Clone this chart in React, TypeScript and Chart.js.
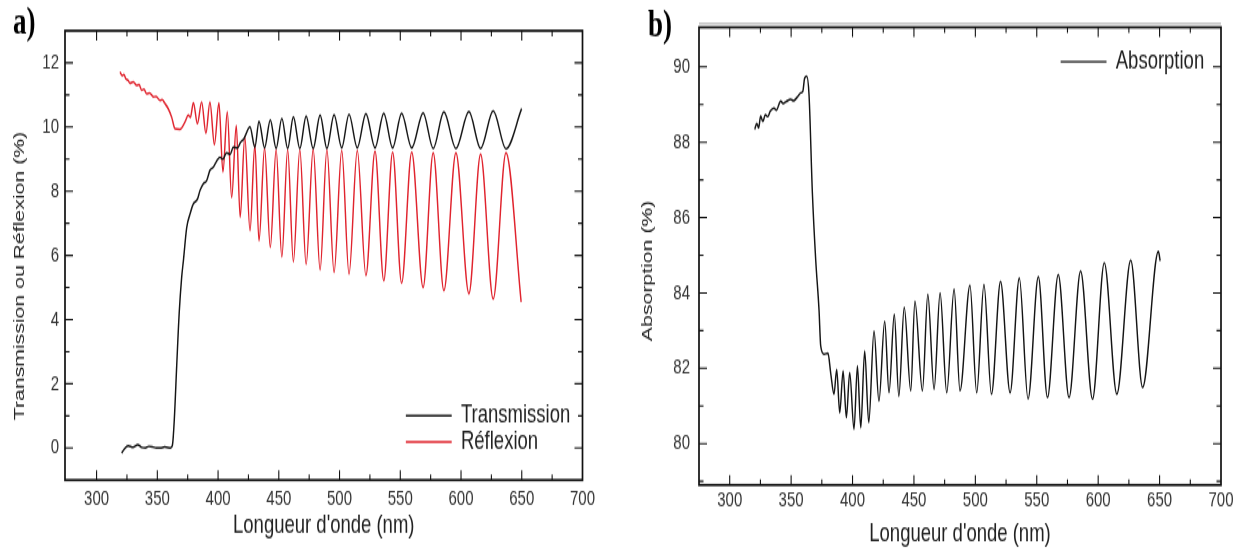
import React, { useEffect, useRef } from "react";
import { Chart, registerables } from "chart.js";

Chart.register(...registerables);

// ---------------- data ----------------
// Panel a) : Transmission (black) and Réflexion (red), % vs wavelength (nm)
const transmissionNm = [320.7, 322.5, 326, 330, 333.9, 337, 340.2, 343, 346.3, 349, 352.5, 356, 361, 362.5, 364, 366, 368, 370, 371.5, 374.2, 377, 379.6, 383, 385.1, 387.8, 390.6, 393.3, 396.1, 399, 401.6, 404, 407, 410, 412.5, 416, 418.5, 421, 426.3, 430.3, 433.7, 438.3, 443, 447.8, 452.5, 457.3, 462, 467.3, 472.5, 478.3, 484, 489.6, 495.5, 501.8, 507.8, 514.6, 521.7, 529.2, 536.4, 543.7, 551.1, 559.4, 568.8, 577.1, 585.9, 595.8, 606.5, 616.1, 626.5, 637, 649.9];
const transmissionPct = [-0.16, -0.05, 0.07, 0.02, 0.1, 0.02, 0.0, 0.05, 0.03, 0.0, 0.0, 0.03, 0.0, 0.1, 0.9, 2.6, 4.2, 5.3, 5.85, 6.87, 7.3, 7.6, 7.75, 8.02, 8.23, 8.33, 8.65, 8.75, 8.95, 9.06, 9.0, 9.2, 9.15, 9.37, 9.35, 9.52, 9.62, 10.0, 9.37, 10.18, 9.35, 10.22, 9.33, 10.27, 9.33, 10.32, 9.33, 10.34, 9.33, 10.37, 9.33, 10.38, 9.35, 10.4, 9.35, 10.42, 9.35, 10.43, 9.35, 10.43, 9.35, 10.44, 9.33, 10.47, 9.33, 10.48, 9.33, 10.5, 9.32, 10.57];

const reflexionNm = [319.3, 321, 322.5, 324, 326, 327.5, 330.2, 333, 335, 337.1, 339, 341.2, 343.7, 346.7, 349, 352.2, 354, 356.3, 359, 361.8, 364.5, 368.6, 372.8, 375.5, 377.2, 379.7, 383, 386.5, 390, 393.3, 397, 400.7, 404, 407.6, 411.2, 415, 418.2, 422, 426.3, 430.3, 433.7, 438.3, 443, 447.8, 452.5, 457.3, 462, 467.3, 472.5, 478.3, 484, 489.6, 495.5, 501.8, 507.8, 514.6, 521.7, 529.2, 536.4, 543.7, 551.1, 559.4, 568.8, 577.1, 585.9, 595.8, 606.5, 616.1, 626.5, 637, 649.5];
const reflexionPct = [11.72, 11.6, 11.64, 11.51, 11.45, 11.36, 11.41, 11.3, 11.32, 11.15, 11.18, 11.04, 11.06, 10.94, 10.95, 10.83, 10.85, 10.73, 10.57, 10.31, 9.95, 9.93, 10.16, 10.37, 10.3, 10.76, 10.1, 10.78, 9.8, 10.78, 9.45, 10.75, 8.6, 10.47, 7.8, 10.05, 7.19, 9.7, 6.77, 9.45, 6.45, 9.35, 6.25, 9.3, 5.95, 9.3, 5.8, 9.3, 5.72, 9.32, 5.55, 9.3, 5.47, 9.27, 5.42, 9.27, 5.37, 9.25, 5.21, 9.22, 5.13, 9.22, 5.0, 9.2, 4.9, 9.2, 4.81, 9.15, 4.64, 9.2, 4.55];

// Panel b) : Absorption (%) vs wavelength (nm)
const absorptionNm = [320.4, 322, 323.5, 325.2, 327, 329, 331, 333, 336, 338, 341.5, 343.5, 346, 349.6, 352, 355, 357.8, 359.5, 361, 362.7, 364.6, 367.3, 370, 372.7, 374.1, 376.8, 380, 382.2, 384.9, 387.1, 389.6, 392.3, 395, 397.7, 401.2, 404, 406.7, 409.9, 413.2, 417.5, 421.5, 426.2, 429.7, 434, 437.7, 442.1, 447.4, 450.8, 456.9, 461.3, 466.4, 471.3, 476.7, 482.7, 487.5, 495.6, 501.1, 507, 513.1, 520.5, 528.3, 535.8, 542.9, 551.3, 558.7, 567.5, 576.3, 585.7, 595.4, 605, 615.2, 626.5, 636.2, 649, 650.5];
const absorptionPct = [88.34, 88.5, 88.38, 88.69, 88.55, 88.73, 88.68, 88.82, 88.91, 88.85, 89.09, 89.03, 89.08, 89.14, 89.1, 89.2, 89.31, 89.35, 89.7, 89.75, 89.25, 86.66, 84.89, 83.56, 82.59, 82.37, 82.4, 81.88, 81.31, 81.97, 80.82, 81.93, 80.69, 81.88, 80.38, 82.06, 80.42, 82.46, 80.56, 82.99, 81.13, 83.25, 81.35, 83.43, 81.26, 83.62, 81.4, 83.78, 81.4, 83.96, 81.44, 84.0, 81.35, 84.1, 81.4, 84.2, 81.35, 84.22, 81.31, 84.3, 81.35, 84.4, 81.18, 84.43, 81.22, 84.49, 81.22, 84.58, 81.18, 84.8, 81.31, 84.87, 81.49, 85.1, 84.85];

// tick values
const wavelengthTicks = [300, 350, 400, 450, 500, 550, 600, 650, 700];
const wavelengthMinor = [275, 325, 375, 425, 475, 525, 575, 625, 675];
const percentTicksA = [0, 2, 4, 6, 8, 10, 12];
const percentMinorA = [-1, 1, 3, 5, 7, 9, 11, 13];
const percentTicksB = [80, 82, 84, 86, 88, 90];
const percentMinorB = [79, 81, 83, 85, 87, 89, 91];

// ---------------- layout ----------------
const PAGE_H = 551;
const H = 394; // internal canvas height; the reference is vertically stretched
const S = PAGE_H / H;
const FONT = '"Liberation Sans", Arial, "DejaVu Sans", sans-serif';
const TEXT = "#222";

type Spec = {
  width: number;
  offset: number;
  areaLeft: number;
  areaRight: number;
  areaTop: number; // display px
  areaBottom: number; // display px
  xMin: number;
  xMax: number;
  yMin: number;
  yMax: number;
  yTicks: number[];
  yMinor: number[];
  yTitle: string;
  yTitleCenterX: number;
  yTickPad: number;
  xTickPad: number;
  xTitlePadBottom: number;
  legendLeft: number;
  legendCenterY: number; // display px
  letter: string;
  letterX: number;
  letterY: number;
  topShadow: boolean;
};

const LEGEND_FONT = 18.5;
const TICK_FONT = 15;
const YTITLE_FONT = 15.2;
const XTITLE_FONT = 18.5;

const specA: Spec = {
  width: 620,
  offset: 0,
  areaLeft: 65,
  areaRight: 582.5,
  areaTop: 30.7,
  areaBottom: 480,
  xMin: 274,
  xMax: 700,
  yMin: -1,
  yMax: 13,
  yTicks: percentTicksA,
  yMinor: percentMinorA,
  yTitle: "Transmission ou Réflexion (%)       ",
  yTitleCenterX: 20,
  yTickPad: 6,
  xTickPad: 4.9,
  xTitlePadBottom: 6.8,
  legendLeft: 405.7,
  legendCenterY: 415.7,
  letter: "a)",
  letterX: 13,
  letterY: 24,
  topShadow: false,
};

const specB: Spec = {
  width: 622,
  offset: 620,
  areaLeft: 79,
  areaRight: 601,
  areaTop: 27.3,
  areaBottom: 485,
  xMin: 275,
  xMax: 700,
  yMin: 78.9,
  yMax: 91.05,
  yTicks: percentTicksB,
  yMinor: percentMinorB,
  yTitle: "Absorption (%)     ",
  yTitleCenterX: 28,
  yTickPad: 9,
  xTickPad: 2.3,
  xTitlePadBottom: 1.1,
  legendLeft: 440.5,
  legendCenterY: 61.7,
  letter: "b)",
  letterX: 28,
  letterY: 26.2,
  topShadow: true,
};

function points(xs: number[], ys: number[]) {
  return xs.map((x, i) => ({ x, y: ys[i] }));
}

function lineDataset(label: string, xs: number[], ys: number[], color: string) {
  return {
    label,
    data: points(xs, ys),
    borderColor: color,
    backgroundColor: color,
    borderWidth: 1.45,
    pointRadius: 0,
    fill: false,
    cubicInterpolationMode: "monotone",
  };
}

function framePlugin(p: Spec) {
  return {
    id: "frameTicks" + p.letter,
    afterLayout(chart: any) {
      const lg = chart.legend;
      if (!lg) return;
      const pad = lg.options.labels.padding;
      lg.left = p.legendLeft - pad;
      lg.top = p.legendCenterY / S - LEGEND_FONT / 2 - pad;
      lg.right = lg.left + lg.width;
      lg.bottom = lg.top + 200;
    },
    afterDraw(chart: any) {
      const { ctx, chartArea: a } = chart;
      const xs = chart.scales.x;
      const ys = chart.scales.y;
      ctx.save();
      if (p.topShadow) {
        ctx.strokeStyle = "#b4b4b4";
        ctx.lineWidth = 1.1;
        ctx.beginPath();
        ctx.moveTo(a.left, a.top - 2.6);
        ctx.lineTo(a.right, a.top - 2.6);
        ctx.stroke();
      }
      ctx.strokeStyle = "#111";
      ctx.lineWidth = 1.7;
      ctx.strokeRect(a.left, a.top, a.right - a.left, a.bottom - a.top);
      ctx.lineWidth = 1.1;
      ctx.beginPath();
      const vt = (v: number, len: number) => {
        const x = xs.getPixelForValue(v);
        if (x < a.left + 2 || x > a.right - 2) return;
        ctx.moveTo(x, a.bottom);
        ctx.lineTo(x, a.bottom - len);
        ctx.moveTo(x, a.top);
        ctx.lineTo(x, a.top + len);
      };
      const ht = (v: number, len: number) => {
        const y = ys.getPixelForValue(v);
        if (y < a.top + 2 || y > a.bottom - 2) return;
        ctx.moveTo(a.left, y);
        ctx.lineTo(a.left + len, y);
        ctx.moveTo(a.right, y);
        ctx.lineTo(a.right - len, y);
      };
      wavelengthTicks.forEach((v) => vt(v, 7));
      wavelengthMinor.forEach((v) => vt(v, 4));
      p.yTicks.forEach((v) => ht(v, 8));
      p.yMinor.forEach((v) => ht(v, 4.5));
      ctx.stroke();
      ctx.fillStyle = "#000";
      ctx.font = 'bold 27px "Liberation Serif", "DejaVu Serif", serif';
      ctx.textAlign = "left";
      ctx.textBaseline = "alphabetic";
      ctx.fillText(p.letter, p.letterX, p.letterY);
      ctx.restore();
    },
  };
}

function panelConfig(p: Spec, datasets: any[]): any {
  const top = p.areaTop / S;
  const bottom = p.areaBottom / S;
  return {
    type: "line",
    data: { datasets },
    options: {
      animation: false,
      responsive: false,
      devicePixelRatio: 1,
      events: [],
      layout: { padding: { left: 0, top, right: p.width - p.areaRight, bottom: 0 } },
      scales: {
        x: {
          type: "linear",
          min: p.xMin,
          max: p.xMax,
          afterBuildTicks: (s: any) => {
            s.ticks = wavelengthTicks.map((value) => ({ value }));
          },
          afterFit: (s: any) => {
            s.height = H - bottom;
          },
          grid: { display: false, drawTicks: false },
          border: { display: false },
          ticks: {
            padding: p.xTickPad,
            autoSkip: false,
            maxRotation: 0,
            color: "#333",
            font: { family: FONT, size: TICK_FONT },
          },
          title: {
            display: true,
            text: "Longueur d'onde (nm)",
            color: TEXT,
            font: { family: FONT, size: XTITLE_FONT },
            padding: { top: 0, bottom: p.xTitlePadBottom },
          },
        },
        y: {
          type: "linear",
          min: p.yMin,
          max: p.yMax,
          afterBuildTicks: (s: any) => {
            s.ticks = p.yTicks.map((value) => ({ value }));
          },
          afterFit: (s: any) => {
            s.width = p.areaLeft;
          },
          grid: { display: false, drawTicks: false },
          border: { display: false },
          ticks: {
            padding: p.yTickPad,
            autoSkip: false,
            color: "#333",
            font: { family: FONT, size: TICK_FONT },
          },
          title: {
            display: true,
            text: p.yTitle,
            color: TEXT,
            font: { family: FONT, size: YTITLE_FONT },
            padding: { top: p.yTitleCenterX - (YTITLE_FONT * 1.2) / 2, bottom: 0 },
          },
        },
      },
      plugins: {
        legend: {
          display: true,
          position: "chartArea",
          align: "start",
          labels: {
            boxWidth: 46,
            boxHeight: 0,
            padding: 0.2,
            color: TEXT,
            font: { family: FONT, size: LEGEND_FONT },
          },
        },
        tooltip: { enabled: false },
        title: { display: false },
      },
    },
    plugins: [framePlugin(p)],
  };
}

function Panel({ spec, datasets }: { spec: Spec; datasets: any[] }) {
  const ref = useRef<HTMLCanvasElement | null>(null);
  useEffect(() => {
    if (!ref.current) return;
    const chart = new Chart(ref.current, panelConfig(spec, datasets));
    return () => chart.destroy();
  }, []);
  return (
    <canvas
      ref={ref}
      width={spec.width}
      height={H}
      style={{
        position: "absolute",
        left: spec.offset + "px",
        top: "0px",
        width: spec.width + "px",
        height: PAGE_H + "px",
      }}
    />
  );
}

export default function App() {
  const datasetsA = [
    lineDataset("Transmission", transmissionNm, transmissionPct, "#151515"),
    lineDataset("Réflexion", reflexionNm, reflexionPct, "#e0242e"),
  ];
  const datasetsB = [lineDataset("Absorption", absorptionNm, absorptionPct, "#151515")];
  return (
    <div
      style={{
        position: "absolute",
        left: 0,
        top: 0,
        width: "1242px",
        height: PAGE_H + "px",
        background: "#fff",
        overflow: "hidden",
      }}
    >
      <Panel spec={specA} datasets={datasetsA} />
      <Panel spec={specB} datasets={datasetsB} />
    </div>
  );
}
